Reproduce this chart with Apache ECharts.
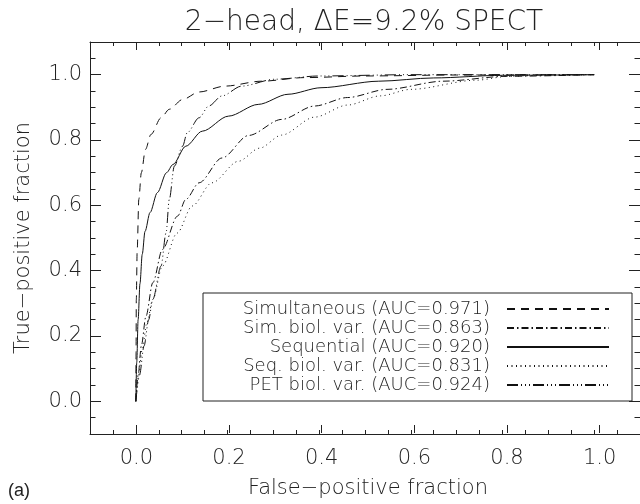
<!DOCTYPE html>
<html>
<head>
<meta charset="utf-8">
<script src="https://cdn.jsdelivr.net/npm/echarts@6/dist/echarts.min.js"></script>
<style>
html, body { margin: 0; padding: 0; background: #fff; }
#chart { width: 640px; height: 504px; }
</style>
</head>
<body>
<div id="chart"></div>
<script>
// ROC curves, [false-positive fraction, true-positive fraction]
var names = [
	'Simultaneous (AUC=0.971)',
	'Sim. biol. var. (AUC=0.863)',
	'Sequential (AUC=0.920)',
	'Seq. biol. var. (AUC=0.831)',
	'PET biol. var. (AUC=0.924)'
];
var simultaneous = [[0,0],[0.0005,0.15],[0.001,0.31],[0.003,0.465],[0.0065,0.618],[0.012,0.70],[0.021,0.771],
	[0.033,0.817],[0.055,0.868],[0.073,0.894],[0.102,0.924],[0.138,0.947],[0.195,0.965],[0.274,0.98],
	[0.368,0.991],[0.5,0.996],[0.7,0.999],[1,1]];
var simBiol = [[0,0],[0.005,0.08],[0.012,0.17],[0.022,0.26],[0.037,0.363],[0.058,0.465],[0.091,0.567],
	[0.109,0.618],[0.138,0.669],[0.188,0.745],[0.246,0.814],[0.318,0.863],[0.39,0.904],[0.462,0.93],
	[0.548,0.955],[0.67,0.98],[0.81,0.995],[1,1]];
var sequential = [[0,0],[0.002,0.12],[0.005,0.25],[0.009,0.36],[0.014,0.45],[0.02,0.52],[0.031,0.578],
	[0.047,0.639],[0.067,0.70],[0.081,0.725],[0.109,0.781],[0.145,0.827],[0.202,0.873],[0.267,0.909],
	[0.332,0.94],[0.404,0.96],[0.53,0.98],[0.65,0.99],[0.8,0.998],[1,1]];
var seqBiol = [[0,0],[0.006,0.08],[0.014,0.16],[0.024,0.24],[0.037,0.312],[0.058,0.414],[0.09,0.515],
	[0.123,0.598],[0.166,0.669],[0.224,0.735],[0.27,0.775],[0.318,0.815],[0.39,0.87],[0.462,0.907],
	[0.533,0.935],[0.6,0.955],[0.742,0.983],[0.814,0.995],[0.9,0.999],[1,1]];
var petBiol = [[0,0],[0.008,0.08],[0.018,0.17],[0.028,0.25],[0.037,0.312],[0.055,0.414],[0.066,0.516],
	[0.073,0.618],[0.084,0.72],[0.102,0.781],[0.112,0.822],[0.138,0.868],[0.159,0.904],[0.188,0.935],
	[0.231,0.965],[0.303,0.986],[0.4,0.996],[0.6,1],[1,1]];

var ink = '#222';
var font = '"DejaVu Sans"';
var weight = 200;
var dashes = [[8, 6], [7, 3, 1.5, 3], 'solid', [1, 3.5], [11, 3, 1, 3, 1, 3, 1, 3]];
var curves = [simultaneous, simBiol, sequential, seqBiol, petBiol];

// plot frame -0.1..1.1 on both axes; 0..1 spans 463.3 px in x, 326.7 px in y
var frame = { left: 90, top: 42, width: 556, height: 392 };
var unitX = frame.width / 1.2, unitY = frame.height / 1.2;

// frame axes: minor ticks every 0.05 (grid 0)
function minorAxis(pos, len) {
	return {
		type: 'value', gridIndex: 0, position: pos, min: -0.1, max: 1.1, interval: 0.05,
		axisLine: { show: true, onZero: false, lineStyle: { color: ink, width: 1 } },
		axisTick: { show: true, inside: true, length: len, lineStyle: { color: ink, width: 1 } },
		axisLabel: { show: false }, splitLine: { show: false }
	};
}
// major ticks every 0.2 on grids spanning 0..1 exactly
function majorAxis(grid, pos, len, extra) {
	return Object.assign({
		type: 'value', gridIndex: grid, position: pos, min: 0, max: 1, interval: 0.2,
		axisLine: { show: false, onZero: false },
		axisTick: { show: true, inside: true, length: len, lineStyle: { color: ink, width: 1 } },
		axisLabel: { show: false }, splitLine: { show: false }
	}, extra || {});
}
function hiddenAxis(grid) {
	return { type: 'value', gridIndex: grid, show: false, min: 0, max: 1 };
}
var labelStyle = {
	show: true, color: ink, fontFamily: font, fontWeight: weight, fontSize: 21,
	formatter: function(v) { return v.toFixed(1); }
};
var nameStyle = { color: ink, fontFamily: font, fontWeight: weight, fontSize: 21 };

var chart = echarts.init(document.getElementById('chart'));
chart.setOption({
	animation: false,
	title: {
		text: '2\u2212head, \u0394E=9.2% SPECT', left: 359, top: 4, textAlign: 'center',
		textStyle: { color: ink, fontFamily: font, fontWeight: weight, fontSize: 28 }
	},
	grid: [
		frame,
		{ left: frame.left + 0.1 * unitX, width: unitX, top: frame.top, height: frame.height },
		{ left: frame.left, width: frame.width, top: frame.top + 0.1 * unitY, height: unitY }
	],
	xAxis: [
		minorAxis('bottom', 4),
		minorAxis('top', 4),
		majorAxis(1, 'bottom', 8, {
			axisLabel: Object.assign({ margin: 15 }, labelStyle),
			name: 'False\u2212positive fraction', nameLocation: 'middle', nameGap: 45, nameTextStyle: nameStyle
		}),
		majorAxis(1, 'top', 8),
		hiddenAxis(2)
	],
	yAxis: [
		minorAxis('left', 5.5),
		minorAxis('right', 5.5),
		hiddenAxis(1),
		majorAxis(2, 'left', 11, {
			axisLabel: Object.assign({ margin: 8 }, labelStyle),
			name: 'True\u2212positive fraction', nameLocation: 'middle', nameGap: 56, nameTextStyle: nameStyle
		}),
		majorAxis(2, 'right', 11)
	],
	legend: {
		orient: 'vertical', left: 203, top: 293, align: 'right',
		padding: [7, 22, 7, 8], itemGap: 1, itemWidth: 102, itemHeight: 14,
		borderColor: ink, borderWidth: 1, backgroundColor: '#fff',
		itemStyle: { opacity: 0 },
		formatter: function(n) { return '{t|' + n + '}'; },
		textStyle: {
			color: ink, fontFamily: font, fontWeight: weight, fontSize: 18,
			rich: { t: { width: 279, align: 'right', lineHeight: 20, padding: [0, 12, 0, 0],
				fontFamily: font, fontWeight: weight, fontSize: 18, color: ink } }
		},
		data: names
	},
	graphic: [{
		type: 'text', left: 8, top: 482,
		style: { text: '(a)', fill: '#222', font: '18px "Liberation Sans"' }
	}],
	series: curves.map(function(c, i) {
		return {
			name: names[i], type: 'line', data: c, xAxisIndex: 0, yAxisIndex: 0,
			symbol: 'none', showSymbol: false, smooth: 0.3, smoothMonotone: 'x',
			lineStyle: { color: '#111', width: 1, type: dashes[i] },
			itemStyle: { color: '#111' }
		};
	})
});
</script>
</body>
</html>
